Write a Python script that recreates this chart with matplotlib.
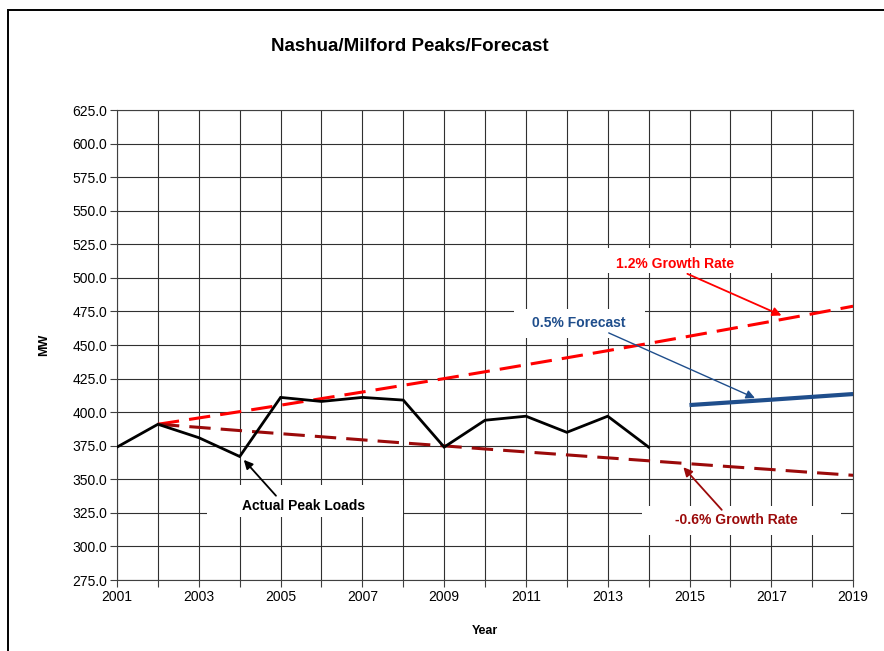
import matplotlib
matplotlib.use('Agg')
import matplotlib.pyplot as plt
import numpy as np
from matplotlib import patches

plt.rcParams.update({
    'font.family': ['Liberation Sans', 'DejaVu Sans'],
    'xtick.labelsize': 10,
    'ytick.labelsize': 10,
})

# data
actual_years = [2001, 2002, 2003, 2004, 2005, 2006, 2007, 2008, 2009, 2010, 2011, 2012, 2013, 2014]
actual_mw = [374, 391, 381, 367, 411, 408, 411, 409, 374, 394, 397, 385, 397, 374]

trend_years = list(range(2002, 2020))
growth_hi = [391.0, 395.7, 400.4, 405.2, 410.1, 415.0, 420.0, 425.0, 430.1,
             435.3, 440.5, 445.8, 451.2, 456.6, 462.1, 467.6, 473.2, 478.9]
growth_lo = [391.0, 388.7, 386.3, 384.0, 381.7, 379.4, 377.1, 374.9, 372.6,
             370.4, 368.2, 366.0, 363.8, 361.6, 359.4, 357.3, 355.1, 353.0]

fc_years = [2015, 2016, 2017, 2018, 2019]
fc_mw = [405.3, 407.3, 409.3, 411.4, 413.5]

x_ticks = list(range(2001, 2020, 2))
y_ticks = np.arange(275, 626, 25)

RED = '#ff0000'
DRED = '#9b0a0a'
BLUE = '#1f4e8c'

fig = plt.figure(figsize=(8.84, 6.51), dpi=100)
ax = fig.add_axes([0.1324, 0.109, 0.8326, 0.722])

# outer frame of the chart area
fig.patches.append(patches.Rectangle((0.009, -0.05), 1.2, 1.035, transform=fig.transFigure,
                                     fill=False, edgecolor='black', linewidth=1.4))

ax.set_xlim(2001, 2019)
ax.set_ylim(275, 625)
ax.set_xticks(range(2001, 2020))
ax.set_xticklabels([str(y) if y in x_ticks else '' for y in range(2001, 2020)])
ax.set_yticks(y_ticks)
ax.set_yticklabels(['%.1f' % v for v in y_ticks])
ax.tick_params(direction='out', length=5, width=0.8, color='#404040', pad=2)
ax.grid(True, color='#303030', linewidth=0.8)
ax.set_axisbelow(True)
for s in ax.spines.values():
    s.set_color('#404040')
    s.set_linewidth(0.8)

ax.plot(actual_years, actual_mw, color='black', linewidth=2.0, zorder=4, solid_joinstyle='miter')
ax.plot(trend_years, growth_hi, color=RED, linewidth=2.2, dashes=(7, 3.3), zorder=3)
ax.plot(trend_years, growth_lo, color=DRED, linewidth=2.2, dashes=(7, 3.3), zorder=3)
ax.plot(fc_years, fc_mw, color=BLUE, linewidth=3.0, zorder=3, solid_capstyle='butt')

# white boxes behind annotation texts
boxes = [(2003.2, 322.0, 4.8, 24.0), (2010.7, 455.0, 3.2, 22.0),
         (2012.8, 503.5, 4.3, 18.5), (2013.85, 308.5, 4.85, 22.0)]
for bx, by, bw, bh in boxes:
    ax.add_patch(patches.Rectangle((bx, by), bw, bh, facecolor='white', edgecolor='none', zorder=2))

arrow = dict(arrowstyle='-|>', mutation_scale=13, shrinkA=0, shrinkB=0, linewidth=1.3)
ax.annotate('Actual Peak Loads', xy=(2004.1, 364.5), xytext=(2005.55, 330.5),
            ha='center', va='center', fontsize=10, fontweight='bold', color='black',
            arrowprops=dict(arrow, color='black', relpos=(0.3, 1.0)), zorder=5)
ax.annotate('1.2% Growth Rate', xy=(2017.25, 472.0), xytext=(2014.65, 510.3),
            ha='center', va='center', fontsize=10, fontweight='bold', color=RED,
            arrowprops=dict(arrow, color=RED, relpos=(0.55, 0.0)), zorder=5)
ax.annotate('0.5% Forecast', xy=(2016.6, 410.5), xytext=(2012.3, 466.3),
            ha='center', va='center', fontsize=10, fontweight='bold', color=BLUE,
            arrowprops=dict(arrow, color=BLUE, linewidth=1.0, relpos=(0.75, 0.0)), zorder=5)
ax.annotate('-0.6% Growth Rate', xy=(2014.85, 359.0), xytext=(2016.15, 320.0),
            ha='center', va='center', fontsize=10, fontweight='bold', color=DRED,
            arrowprops=dict(arrow, color=DRED, relpos=(0.4, 1.0)), zorder=5)

fig.text(0.464, 0.929, 'Nashua/Milford Peaks/Forecast', ha='center', va='center',
         fontsize=13.5, fontweight='bold')
ax.set_ylabel('MW', fontsize=9, fontweight='bold', labelpad=16)
ax.set_xlabel('Year', fontsize=9, fontweight='bold', labelpad=15)

fig.savefig('out.png', dpi=100)
